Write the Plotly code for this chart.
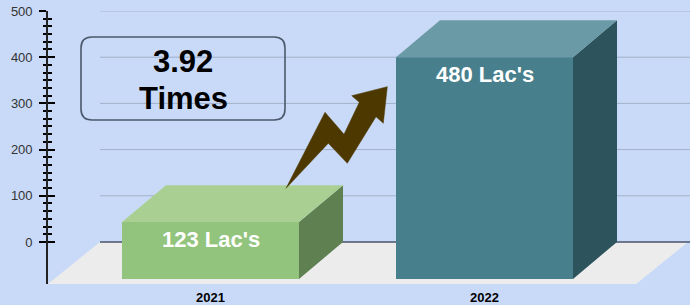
import plotly.graph_objects as go

# ---------------- data ----------------
categories = ["2021", "2022"]
values = [123, 480]
value_labels = ["123 Lac's", "480 Lac's"]
growth_lines = ["3.92", "Times"]
y_ticks = [0, 100, 200, 300, 400, 500]
y_tick_labels = ["0", "100", "200", "300", "400", "500"]
minor_per_major = 6

# ---------------- styles ----------------
BG = "#c9daf8"
FRONT = ["#93c47d", "#47808c"]
TOP = ["#a9cf93", "#6a9aa5"]
SIDE = ["#5f8050", "#2d535c"]
FLOOR = "#ececec"
GRID = "#a3b0c8"
ZERO = "#4a5568"
ARROW = "#4d3800"
BOX = "#4b596c"
FONT = "Liberation Sans, Arial, sans-serif"

W, H = 690, 305
L, T, B = 48, 11, 21
PW, PH = W - L, H - T - B
Y_RANGE = [-91, 500]
PX_PER_X = 274.0
X_MIN = -(210.5 - L) / PX_PER_X
X_RANGE = [X_MIN, X_MIN + PW / PX_PER_X]

HALF_W = 88.5 / PX_PER_X      # half width of bar front face
DX = 44 / PX_PER_X            # depth offset (x)
DY = 80                       # depth offset (value units)
FDX = 52 / PX_PER_X           # floor depth offset (x)


def px(xp, yp):
    return (xp - L) / PW, (H - B - yp) / PH


shapes = []

# floor
fx_l, fx_r = X_RANGE[0], X_RANGE[1] - 0.007
shapes.append(dict(type="path", xref="x", yref="y", layer="above",
                   path=f"M {fx_l},{Y_RANGE[0]} L {fx_l + FDX},0 L {fx_r},0 L {fx_r - FDX},{Y_RANGE[0]} Z",
                   fillcolor=FLOOR, line=dict(width=0)))

# grid lines on back wall
for v in y_ticks:
    shapes.append(dict(type="line", xref="x", yref="y", layer="above",
                       x0=fx_l + FDX, x1=X_RANGE[1], y0=v, y1=v,
                       line=dict(color=ZERO if v == 0 else GRID, width=1.5 if v == 0 else 1)))

annotations = []
# 3D bars
for i, (cat, v) in enumerate(zip(categories, values)):
    c = i
    x0, x1 = c - HALF_W, c + HALF_W
    yb, yt = -DY, v - DY
    shapes.append(dict(type="path", xref="x", yref="y", layer="above",
                       path=f"M {x1},{yb} L {x1},{yt} L {x1 + DX},{v} L {x1 + DX},{yb + DY} Z",
                       fillcolor=SIDE[i], line=dict(width=0)))
    shapes.append(dict(type="path", xref="x", yref="y", layer="above",
                       path=f"M {x0},{yt} L {x1},{yt} L {x1 + DX},{v} L {x0 + DX},{v} Z",
                       fillcolor=TOP[i], line=dict(width=0)))
    shapes.append(dict(type="rect", xref="x", yref="y", layer="above",
                       x0=x0, x1=x1, y0=yb, y1=yt,
                       fillcolor=FRONT[i], line=dict(width=0)))
    annotations.append(dict(x=c, y=yt, xref="x", yref="y", yanchor="middle",
                            yshift=-17, showarrow=False, text=value_labels[i],
                            font=dict(family=FONT, size=22, color="white", weight="bold")))

# rounded text box
bx0, by0, bx1, by1, r = 81, 37, 285, 120, 11
def P(a, b):
    x, y = px(a, b)
    return f"{x:.5f},{y:.5f}"
box_path = (f"M {P(bx0 + r, by0)} L {P(bx1 - r, by0)} Q {P(bx1, by0)} {P(bx1, by0 + r)} "
            f"L {P(bx1, by1 - r)} Q {P(bx1, by1)} {P(bx1 - r, by1)} "
            f"L {P(bx0 + r, by1)} Q {P(bx0, by1)} {P(bx0, by1 - r)} "
            f"L {P(bx0, by0 + r)} Q {P(bx0, by0)} {P(bx0 + r, by0)} Z")
shapes.append(dict(type="path", xref="paper", yref="paper", layer="above",
                   path=box_path, line=dict(color=BOX, width=1.6)))

for txt, yc in zip(growth_lines, [61, 98]):
    xa, ya = px(183, yc)
    annotations.append(dict(x=xa, y=ya, xref="paper", yref="paper", showarrow=False,
                            xanchor="center", yanchor="middle", text=txt,
                            font=dict(family=FONT, size=31, color="black", weight="bold")))

# lightning arrow
arrow_px = [(286, 188.3), (325, 112.3), (344, 134.3), (359.3, 102.3), (351.7, 95.7),
            (387.3, 86.7), (383.3, 123.3), (376, 116.7), (347.3, 163.3), (328.3, 143.3)]
arrow_path = "M " + " L ".join(P(a, b) for a, b in arrow_px) + " Z"
shapes.append(dict(type="path", xref="paper", yref="paper", layer="above",
                   path=arrow_path, fillcolor=ARROW, line=dict(color=ARROW, width=0.5)))

# minor ticks
step = 100 / minor_per_major
minor_vals = [y_ticks[0] + k * step for k in range(int((y_ticks[-1] - y_ticks[0]) / step) + 1)
              if k % minor_per_major != 0]

fig = go.Figure()
fig.add_trace(go.Scatter(x=[0, 1], y=values, mode="markers", marker=dict(opacity=0),
                         hoverinfo="skip", showlegend=False))
fig.add_trace(go.Scatter(x=[0, 1], y=values, mode="markers", marker=dict(opacity=0),
                         hoverinfo="skip", showlegend=False, yaxis="y2"))

fig.update_layout(
    width=W, height=H,
    margin=dict(l=L, r=0, t=T, b=B),
    paper_bgcolor=BG, plot_bgcolor=BG,
    shapes=shapes, annotations=annotations,
    xaxis=dict(range=X_RANGE, showgrid=False, zeroline=False, showline=False,
               tickvals=[0, 1], ticktext=categories, ticks="", ticklabelstandoff=4,
               tickfont=dict(family=FONT, size=13, color="black", weight="bold")),
    yaxis=dict(range=Y_RANGE, showgrid=False, zeroline=False, showline=True,
               linecolor="#222", linewidth=1.6,
               tickvals=y_ticks, ticktext=y_tick_labels, ticks="outside", ticklen=7,
               tickwidth=2, tickcolor="black", ticklabelstandoff=4,
               tickfont=dict(family=FONT, size=13, color="#333"),
               minor=dict(tickvals=minor_vals, ticks="outside", ticklen=3.5,
                          tickwidth=2, tickcolor="black", showgrid=False)),
    yaxis2=dict(range=Y_RANGE, overlaying="y", side="left", showgrid=False,
                zeroline=False, showline=False, showticklabels=False,
                tickvals=y_ticks, ticks="inside", ticklen=7, tickwidth=2, tickcolor="black",
                minor=dict(tickvals=minor_vals, ticks="inside", ticklen=3.5,
                           tickwidth=2, tickcolor="black", showgrid=False)),
    showlegend=False,
)

fig.write_html("out.html", config={"displayModeBar": False},
               post_script="document.body.style.margin='0';document.body.style.background='" + BG + "';")
